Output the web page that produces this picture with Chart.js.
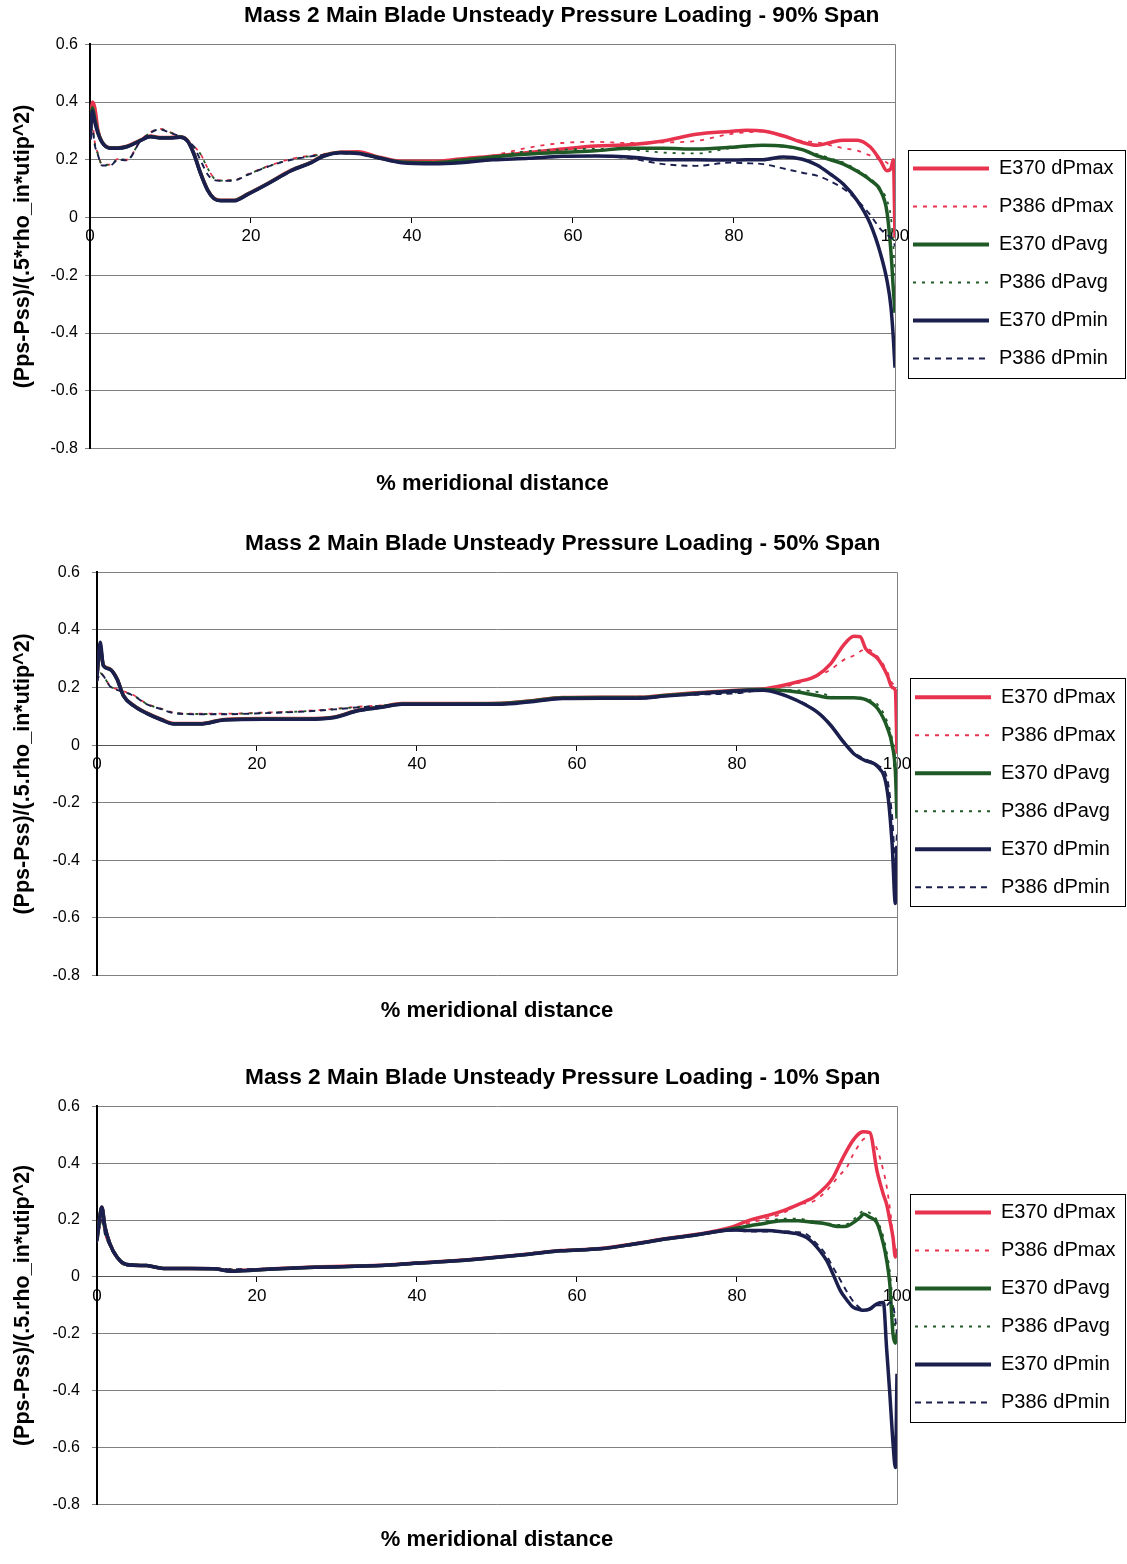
<!DOCTYPE html>
<html>
<head>
<meta charset="utf-8">
<title>Mass 2 Main Blade Unsteady Pressure Loading</title>
<script src="https://cdn.jsdelivr.net/npm/chart.js@4.4.1/dist/chart.umd.min.js"></script>
<style>
  html, body { margin: 0; padding: 0; background: #ffffff; }
  .panel { position: absolute; left: 0; width: 1127px; }
</style>
</head>
<body>
<div class="panel" style="top:0px;height:501px"><canvas id="span90"></canvas></div>
<div class="panel" style="top:528px;height:500px"><canvas id="span50"></canvas></div>
<div class="panel" style="top:1062px;height:495px"><canvas id="span10"></canvas></div>
<script>
// Series names, shared by all three spans
const seriesNames = ['E370 dPmax', 'P386 dPmax', 'E370 dPavg', 'P386 dPavg', 'E370 dPmin', 'P386 dPmin'];
const xTicks = [0, 20, 40, 60, 80, 100];
const yTicks = [0.6, 0.4, 0.2, 0, -0.2, -0.4, -0.6, -0.8];

// ---- 90% span ----
const span90X = [0, 0.3, 0.6, 1, 1.5, 2.5, 3.5, 4.6, 6.2, 7.5, 8.7, 10, 11.2, 12.1, 12.9, 13.7, 14.6, 15.4, 16.2, 17.9, 19.6, 22, 25, 27.5, 29, 31.2, 33.3, 35.8, 38.7, 42.8, 46, 50, 54.5, 58.6, 62.8, 67, 71.2, 75.3, 79.5, 81.6, 83.6, 86.1, 88.5, 90.3, 92, 93.6, 95.3, 96.9, 98.2, 99, 99.5, 99.8, 100];
const span90E370Max = [0.28, 0.4, 0.38, 0.3, 0.262, 0.242, 0.242, 0.247, 0.267, 0.282, 0.277, 0.277, 0.28, 0.267, 0.222, 0.157, 0.097, 0.067, 0.06, 0.06, 0.082, 0.117, 0.164, 0.192, 0.215, 0.227, 0.228, 0.21, 0.195, 0.195, 0.203, 0.212, 0.225, 0.237, 0.248, 0.252, 0.265, 0.288, 0.298, 0.302, 0.3, 0.283, 0.26, 0.25, 0.26, 0.268, 0.268, 0.245, 0.197, 0.162, 0.17, 0.2, -0.07];
const span90P386Max = [0.27, 0.32, 0.26, 0.22, 0.183, 0.183, 0.203, 0.2, 0.264, 0.295, 0.307, 0.295, 0.282, 0.267, 0.247, 0.222, 0.172, 0.137, 0.129, 0.13, 0.15, 0.177, 0.203, 0.215, 0.22, 0.225, 0.224, 0.208, 0.193, 0.195, 0.2, 0.215, 0.242, 0.258, 0.262, 0.258, 0.26, 0.265, 0.289, 0.295, 0.298, 0.28, 0.265, 0.26, 0.25, 0.24, 0.232, 0.215, 0.202, 0.19, 0.175, 0.19, -0.05];
const span90E370Avg = [0.275, 0.38, 0.34, 0.295, 0.261, 0.241, 0.241, 0.246, 0.266, 0.281, 0.276, 0.276, 0.279, 0.266, 0.221, 0.156, 0.096, 0.066, 0.059, 0.059, 0.081, 0.116, 0.163, 0.191, 0.213, 0.225, 0.223, 0.208, 0.192, 0.19, 0.198, 0.21, 0.22, 0.226, 0.231, 0.24, 0.24, 0.237, 0.243, 0.248, 0.25, 0.248, 0.235, 0.214, 0.2, 0.185, 0.16, 0.13, 0.093, 0.02, -0.12, -0.25, -0.33];
const span90P386Avg = [0.27, 0.31, 0.255, 0.218, 0.182, 0.182, 0.202, 0.2, 0.263, 0.294, 0.306, 0.294, 0.281, 0.266, 0.246, 0.221, 0.171, 0.136, 0.128, 0.129, 0.149, 0.176, 0.201, 0.213, 0.218, 0.223, 0.221, 0.206, 0.191, 0.19, 0.198, 0.212, 0.23, 0.235, 0.238, 0.235, 0.225, 0.222, 0.24, 0.245, 0.248, 0.245, 0.235, 0.22, 0.205, 0.19, 0.165, 0.135, 0.1, 0.06, 0.0, -0.1, -0.2];
const span90E370Min = [0.27, 0.37, 0.33, 0.29, 0.26, 0.24, 0.24, 0.245, 0.265, 0.28, 0.275, 0.275, 0.278, 0.265, 0.22, 0.155, 0.095, 0.065, 0.058, 0.058, 0.08, 0.115, 0.162, 0.19, 0.212, 0.224, 0.222, 0.207, 0.19, 0.186, 0.19, 0.2, 0.205, 0.212, 0.213, 0.21, 0.2, 0.2, 0.199, 0.2, 0.2, 0.21, 0.202, 0.182, 0.15, 0.115, 0.059, -0.02, -0.125, -0.217, -0.31, -0.42, -0.52];
const span90P386Min = [0.27, 0.3, 0.25, 0.215, 0.18, 0.18, 0.2, 0.198, 0.262, 0.293, 0.305, 0.293, 0.28, 0.265, 0.245, 0.2, 0.15, 0.13, 0.127, 0.128, 0.148, 0.175, 0.2, 0.212, 0.217, 0.222, 0.22, 0.205, 0.19, 0.188, 0.19, 0.2, 0.205, 0.21, 0.214, 0.205, 0.185, 0.179, 0.19, 0.188, 0.185, 0.17, 0.155, 0.145, 0.125, 0.1, 0.06, 0.01, -0.04, -0.06, -0.07, -0.08, -0.1];

// ---- 50% span ----
const span50X = [0, 0.4, 0.8, 1.6, 2.5, 3.3, 4.6, 6.2, 8, 9.6, 12.9, 15.9, 20.9, 26.3, 29.7, 32.6, 35.6, 38.1, 43.9, 50.6, 54, 58.2, 63, 67.8, 71, 74.9, 79.9, 83.3, 85.4, 87.5, 90, 91.7, 93.3, 94.6, 95.4, 96.1, 97.6, 98.8, 99.4, 99.8, 100];
const span50E370Max = [0.242, 0.33, 0.277, 0.265, 0.231, 0.173, 0.138, 0.112, 0.09, 0.075, 0.075, 0.089, 0.092, 0.092, 0.098, 0.121, 0.133, 0.144, 0.144, 0.145, 0.153, 0.165, 0.166, 0.166, 0.173, 0.182, 0.19, 0.195, 0.205, 0.219, 0.242, 0.282, 0.346, 0.378, 0.376, 0.334, 0.3, 0.242, 0.2, 0.19, -0.03];
const span50P386Max = [0.22, 0.25, 0.24, 0.207, 0.194, 0.187, 0.173, 0.144, 0.127, 0.113, 0.109, 0.109, 0.113, 0.119, 0.126, 0.133, 0.138, 0.144, 0.144, 0.146, 0.153, 0.164, 0.166, 0.168, 0.173, 0.178, 0.184, 0.193, 0.2, 0.214, 0.24, 0.262, 0.295, 0.311, 0.325, 0.334, 0.306, 0.254, 0.215, 0.184, 0.0];
const span50E370Avg = [0.241, 0.34, 0.276, 0.264, 0.23, 0.172, 0.137, 0.111, 0.089, 0.074, 0.074, 0.088, 0.091, 0.091, 0.097, 0.12, 0.132, 0.143, 0.143, 0.144, 0.152, 0.164, 0.165, 0.165, 0.172, 0.18, 0.189, 0.193, 0.19, 0.184, 0.172, 0.164, 0.164, 0.164, 0.163, 0.158, 0.126, 0.06, 0.0, -0.093, -0.255];
const span50P386Avg = [0.22, 0.25, 0.24, 0.206, 0.193, 0.186, 0.172, 0.143, 0.126, 0.112, 0.108, 0.108, 0.112, 0.118, 0.125, 0.132, 0.137, 0.143, 0.143, 0.145, 0.152, 0.163, 0.165, 0.167, 0.172, 0.177, 0.183, 0.193, 0.192, 0.19, 0.185, 0.17, 0.165, 0.165, 0.165, 0.16, 0.14, 0.08, 0.02, -0.06, -0.2];
const span50E370Min = [0.24, 0.357, 0.275, 0.263, 0.229, 0.171, 0.136, 0.11, 0.088, 0.073, 0.073, 0.087, 0.09, 0.09, 0.096, 0.119, 0.131, 0.142, 0.142, 0.142, 0.15, 0.162, 0.163, 0.163, 0.17, 0.178, 0.188, 0.19, 0.178, 0.155, 0.115, 0.069, 0.011, -0.03, -0.045, -0.055, -0.075, -0.162, -0.347, -0.55, -0.35];
const span50P386Min = [0.22, 0.25, 0.24, 0.205, 0.192, 0.185, 0.171, 0.142, 0.125, 0.111, 0.107, 0.107, 0.111, 0.117, 0.124, 0.131, 0.136, 0.142, 0.142, 0.143, 0.15, 0.16, 0.163, 0.165, 0.17, 0.175, 0.18, 0.19, 0.18, 0.157, 0.118, 0.072, 0.015, -0.025, -0.04, -0.05, -0.07, -0.12, -0.25, -0.4, -0.3];

// ---- 10% span ----
const span10X = [0, 0.3, 0.6, 1, 1.6, 2.5, 3.7, 6.2, 8.3, 14.6, 16.7, 18.8, 22, 27.2, 35.6, 39.7, 44, 48.1, 54, 58, 62.9, 67, 71.2, 75, 77.5, 79.6, 81.6, 83.7, 85.8, 87.7, 88.7, 89.5, 91.2, 92, 92.9, 93.7, 94.5, 95.4, 95.8, 96.6, 97.5, 98.3, 98.7, 99.1, 99.5, 99.8, 100];
const span10E370Max = [0.13, 0.2, 0.245, 0.175, 0.117, 0.07, 0.044, 0.04, 0.03, 0.029, 0.022, 0.024, 0.029, 0.035, 0.041, 0.049, 0.056, 0.065, 0.081, 0.093, 0.1, 0.116, 0.135, 0.15, 0.163, 0.178, 0.2, 0.215, 0.233, 0.255, 0.268, 0.279, 0.32, 0.349, 0.4, 0.443, 0.48, 0.507, 0.51, 0.507, 0.373, 0.29, 0.256, 0.2, 0.139, 0.07, 0.1];
const span10P386Max = [0.12, 0.17, 0.2, 0.15, 0.11, 0.065, 0.04, 0.038, 0.03, 0.03, 0.027, 0.027, 0.03, 0.035, 0.042, 0.05, 0.057, 0.066, 0.081, 0.093, 0.1, 0.116, 0.134, 0.147, 0.158, 0.17, 0.19, 0.205, 0.225, 0.255, 0.26, 0.265, 0.303, 0.33, 0.36, 0.384, 0.43, 0.47, 0.484, 0.49, 0.45, 0.373, 0.32, 0.244, 0.15, 0.09, 0.08];
const span10E370Avg = [0.13, 0.2, 0.245, 0.175, 0.117, 0.07, 0.044, 0.04, 0.03, 0.029, 0.021, 0.023, 0.028, 0.034, 0.04, 0.048, 0.055, 0.064, 0.08, 0.092, 0.099, 0.115, 0.134, 0.148, 0.16, 0.17, 0.18, 0.19, 0.198, 0.198, 0.195, 0.192, 0.186, 0.18, 0.177, 0.178, 0.19, 0.21, 0.221, 0.21, 0.19, 0.116, 0.06, -0.024, -0.2, -0.233, -0.2];
const span10P386Avg = [0.12, 0.17, 0.2, 0.15, 0.11, 0.065, 0.04, 0.038, 0.03, 0.03, 0.027, 0.027, 0.03, 0.035, 0.042, 0.05, 0.057, 0.066, 0.081, 0.093, 0.1, 0.116, 0.134, 0.147, 0.158, 0.168, 0.178, 0.195, 0.205, 0.205, 0.2, 0.195, 0.19, 0.185, 0.183, 0.185, 0.2, 0.225, 0.232, 0.225, 0.2, 0.14, 0.09, 0.02, -0.1, -0.18, -0.2];
const span10E370Min = [0.13, 0.2, 0.245, 0.175, 0.117, 0.07, 0.044, 0.04, 0.03, 0.029, 0.02, 0.023, 0.028, 0.034, 0.04, 0.048, 0.055, 0.064, 0.08, 0.092, 0.099, 0.115, 0.134, 0.148, 0.16, 0.165, 0.163, 0.163, 0.158, 0.15, 0.139, 0.12, 0.058, 0.01, -0.047, -0.08, -0.106, -0.115, -0.117, -0.113, -0.094, -0.09, -0.25, -0.409, -0.583, -0.67, -0.34];
const span10P386Min = [0.12, 0.17, 0.2, 0.15, 0.11, 0.065, 0.04, 0.038, 0.03, 0.03, 0.027, 0.027, 0.03, 0.035, 0.042, 0.05, 0.057, 0.066, 0.081, 0.093, 0.1, 0.116, 0.134, 0.147, 0.158, 0.163, 0.16, 0.16, 0.16, 0.157, 0.15, 0.13, 0.075, 0.034, -0.01, -0.05, -0.085, -0.11, -0.117, -0.11, -0.1, -0.1, -0.1, -0.09, -0.1, -0.15, -0.2];

// Line styles, in the same order as seriesNames
const RED = '#e8334f', GREEN = '#1f5a26', NAVY = '#1b1f4e';
const seriesStyles = [
  { color: RED,   width: 3.5, dash: [] },
  { color: RED,   width: 1.8, dash: [4, 6] },
  { color: GREEN, width: 3.5, dash: [] },
  { color: GREEN, width: 1.8, dash: [3, 6] },
  { color: NAVY,  width: 3.5, dash: [] },
  { color: NAVY,  width: 1.9, dash: [6, 5] }
];

const FONT = "'Liberation Sans', Arial, sans-serif";
Chart.defaults.font.family = FONT;
Chart.defaults.color = '#000';

// Grey right edge of the plot area and a box around the legend
const framePlugin = {
  id: 'frames',
  beforeDatasetsDraw(chart) {
    const { ctx, chartArea: a } = chart;
    ctx.save();
    ctx.strokeStyle = '#808080';
    ctx.lineWidth = 1;
    ctx.beginPath();
    ctx.moveTo(Math.round(a.right) + 0.5, a.top);
    ctx.lineTo(Math.round(a.right) + 0.5, a.bottom);
    ctx.stroke();
    ctx.restore();
  },
  afterDraw(chart) {
    const lg = chart.legend;
    if (!lg || !lg.legendHitBoxes || !lg.legendHitBoxes.length) return;
    const hb = lg.legendHitBoxes;
    const l = Math.min(...hb.map(b => b.left)) - 5;
    const t = Math.min(...hb.map(b => b.top)) - 9;
    const b = Math.max(...hb.map(h => h.top + h.height)) + 9;
    const r = chart.width - 2;
    const { ctx } = chart;
    ctx.save();
    ctx.strokeStyle = '#000';
    ctx.lineWidth = 1;
    ctx.strokeRect(Math.round(l) + 0.5, Math.round(t) + 0.5, Math.round(r - l), Math.round(b - t));
    ctx.restore();
  }
};

function buildPanel(canvasId, titleText, yTitleText, xs, ys, frame) {
  const datasets = seriesNames.map((name, i) => ({
    label: name,
    data: xs.map((x, k) => ({ x: x, y: ys[i][k] })),
    borderColor: seriesStyles[i].color,
    backgroundColor: seriesStyles[i].color,
    borderWidth: seriesStyles[i].width,
    borderDash: seriesStyles[i].dash,
    pointRadius: 0,
    fill: false,
    cubicInterpolationMode: 'monotone',
    order: seriesNames.length - i
  }));

  return new Chart(document.getElementById(canvasId), {
    type: 'line',
    data: { datasets },
    plugins: [framePlugin],
    options: {
      responsive: true,
      maintainAspectRatio: false,
      animation: false,
      events: [],
      layout: { padding: { left: 0, right: frame.padRight, top: 0, bottom: 4 } },
      plugins: {
        title: {
          display: true,
          text: titleText,
          color: '#000',
          font: { family: FONT, size: 22.7, weight: 'bold' },
          padding: { top: 2, bottom: 15 }
        },
        legend: {
          position: 'right',
          title: {
            display: frame.legendShift > 0,
            text: ' ',
            font: { size: 10 },
            padding: Math.max(0, (frame.legendShift - 12) / 2)
          },
          labels: {
            usePointStyle: true,
            pointStyle: 'line',
            pointStyleWidth: 76,
            boxHeight: 20,
            padding: 18,
            color: '#000',
            font: { family: FONT, size: 20 },
            generateLabels: (chart) => chart.data.datasets.map((ds, i) => ({
              text: ds.label,
              datasetIndex: i,
              fillStyle: ds.borderColor,
              strokeStyle: ds.borderColor,
              lineWidth: ds.borderDash.length ? 2 : 4,
              lineDash: ds.borderDash,
              lineCap: 'butt',
              pointStyle: 'line',
              fontColor: '#000',
              hidden: false
            }))
          }
        },
        tooltip: { enabled: false }
      },
      scales: {
        x: {
          type: 'linear',
          min: 0,
          max: 100,
          position: { y: 0 },
          afterBuildTicks: (s) => { s.ticks = xTicks.map(v => ({ value: v })); },
          ticks: { color: '#000', font: { family: FONT, size: 17 }, maxRotation: 0, padding: 4 },
          grid: { drawOnChartArea: false, drawTicks: true, tickLength: 5, color: '#000' },
          border: { display: true, color: '#555', width: 1 }
        },
        xTitle: {
          type: 'linear',
          axis: 'x',
          position: 'bottom',
          min: 0,
          max: 100,
          ticks: { display: false },
          grid: { display: false, drawTicks: false },
          border: { display: false },
          title: {
            display: true,
            text: '% meridional distance',
            color: '#000',
            font: { family: FONT, size: 22, weight: 'bold' },
            padding: { top: 22, bottom: 0 }
          }
        },
        y: {
          type: 'linear',
          min: -0.8,
          max: 0.6,
          afterBuildTicks: (s) => { s.ticks = yTicks.map(v => ({ value: v })); },
          afterFit: (s) => { s.width = frame.yWidth; },
          ticks: { color: '#000', font: { family: FONT, size: 16 }, padding: frame.tickPad },
          grid: { color: '#808080', lineWidth: 1, tickLength: 5 },
          border: { display: true, color: '#000', width: 2 },
          title: {
            display: true,
            text: yTitleText,
            color: '#000',
            font: { family: FONT, size: 21.5, weight: 'bold' },
            padding: { top: 10, bottom: 0 }
          }
        }
      }
    }
  });
}

buildPanel('span90', 'Mass 2 Main Blade Unsteady Pressure Loading - 90% Span',
  '(Pps-Pss)/(.5*rho_in*utip^2)', span90X,
  [span90E370Max, span90P386Max, span90E370Avg, span90P386Avg, span90E370Min, span90P386Min],
  { yWidth: 90, tickPad: 7, padRight: 3.5, legendShift: 30 });
buildPanel('span50', 'Mass 2 Main Blade Unsteady Pressure Loading - 50% Span',
  '(Pps-Pss)/(.5.rho_in*utip^2)', span50X,
  [span50E370Max, span50P386Max, span50E370Avg, span50P386Avg, span50E370Min, span50P386Min],
  { yWidth: 97, tickPad: 12, padRight: 1.5, legendShift: 32.6 });
buildPanel('span10', 'Mass 2 Main Blade Unsteady Pressure Loading - 10% Span',
  '(Pps-Pss)/(.5.rho_in*utip^2)', span10X,
  [span10E370Max, span10P386Max, span10E370Avg, span10P386Avg, span10E370Min, span10P386Min],
  { yWidth: 97, tickPad: 12, padRight: 1.5, legendShift: 0 });
</script>
</body>
</html>
